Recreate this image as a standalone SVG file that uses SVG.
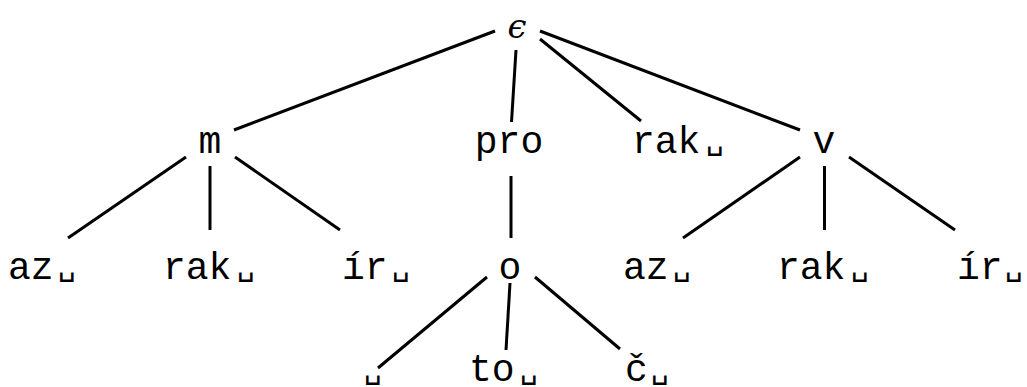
<svg xmlns="http://www.w3.org/2000/svg" width="1027" height="387" viewBox="0 0 1027 387">
<style>
.t{font-family:"Liberation Mono","DejaVu Sans Mono",monospace;font-size:38px;fill:#000}
.sp{font-family:"DejaVu Sans Mono","Liberation Mono",monospace;font-size:30px}
.eps{font-family:"DejaVu Serif","Liberation Serif",serif;font-style:italic;font-size:34px;fill:#000}
.e line{stroke:#000;stroke-width:3;stroke-linecap:butt}
</style>
<rect width="1027" height="387" fill="#fff"/>
<g id="connectors" class="e">
<line x1="495" y1="31" x2="234" y2="130"/>
<line x1="516" y1="50" x2="511.5" y2="122"/>
<line x1="540" y1="39" x2="641" y2="121"/>
<line x1="540" y1="31" x2="800" y2="130"/>
<line x1="186" y1="157" x2="68" y2="238"/>
<line x1="210" y1="166" x2="210" y2="230"/>
<line x1="235" y1="157" x2="340" y2="230"/>
<line x1="511" y1="176" x2="511" y2="238"/>
<line x1="800" y1="157" x2="683" y2="238"/>
<line x1="824.5" y1="166" x2="824.5" y2="230"/>
<line x1="849" y1="157" x2="955" y2="230"/>
<line x1="487" y1="277" x2="378" y2="368"/>
<line x1="510" y1="283" x2="506" y2="350"/>
<line x1="535" y1="277" x2="620" y2="349"/>
</g>
<g id="n-root"><text class="eps" x="517" y="38" text-anchor="middle">ϵ</text></g>
<g id="n-m"><text class="t" x="210" y="153" text-anchor="middle">m</text></g>
<g id="n-pro"><text class="t" x="509" y="153" text-anchor="middle">pro</text></g>
<g id="n-rak1"><text class="t" x="632" y="153">rak<tspan class="sp" x="706" dy="-4">␣</tspan></text></g>
<g id="n-v"><text class="t" x="824" y="153" text-anchor="middle">v</text></g>
<g id="n-m-az"><text class="t" x="8" y="279">az<tspan class="sp" x="58" dy="-4">␣</tspan></text></g>
<g id="n-m-rak"><text class="t" x="163" y="279">rak<tspan class="sp" x="237" dy="-4">␣</tspan></text></g>
<g id="n-m-ir"><text class="t" x="342" y="279">ír<tspan class="sp" x="392" dy="-4">␣</tspan></text></g>
<g id="n-o"><text class="t" x="510" y="279" text-anchor="middle">o</text></g>
<g id="n-v-az"><text class="t" x="623" y="279">az<tspan class="sp" x="673" dy="-4">␣</tspan></text></g>
<g id="n-v-rak"><text class="t" x="777" y="279">rak<tspan class="sp" x="851" dy="-4">␣</tspan></text></g>
<g id="n-v-ir"><text class="t" x="957" y="279">ír<tspan class="sp" x="1005" dy="-4">␣</tspan></text></g>
<g id="n-o-sp"><text class="t" x="364" y="378"><tspan class="sp">␣</tspan></text></g>
<g id="n-o-to"><text class="t" x="469" y="381">to<tspan class="sp" x="520" dy="-3">␣</tspan></text></g>
<g id="n-o-c"><text class="t" x="625" y="381">č<tspan class="sp" x="651" dy="-3">␣</tspan></text></g>
</svg>
